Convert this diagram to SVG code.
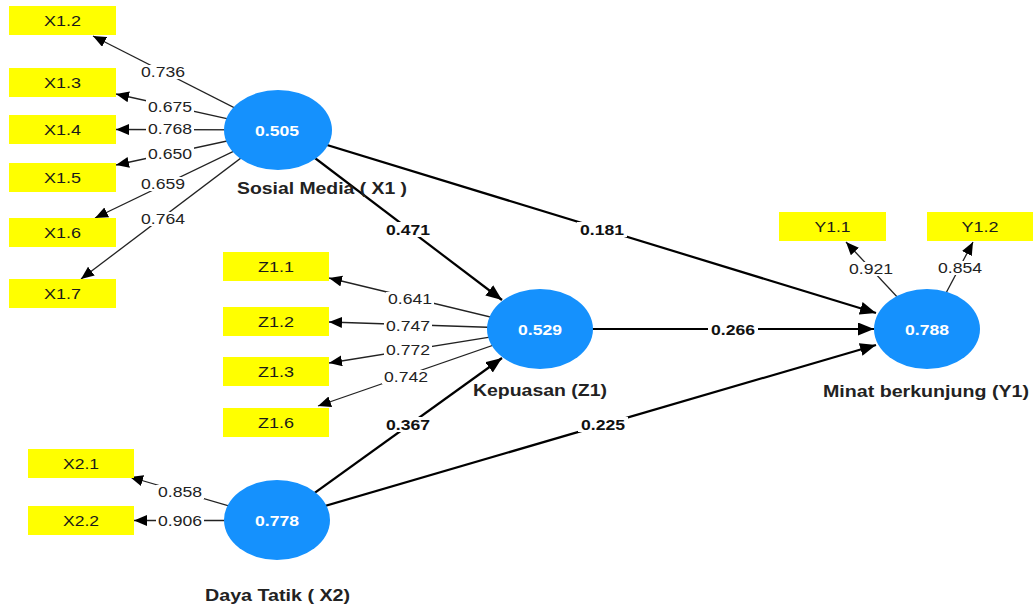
<svg xmlns="http://www.w3.org/2000/svg" width="1033" height="607" viewBox="0 0 1033 607">
<style>
.bg{fill:#ffffff}
.ind rect{fill:#ffff00}
.ind text{font-family:"Liberation Sans",Arial,sans-serif;font-size:15px;fill:#1a1a1a;text-anchor:middle}
.lv ellipse{fill:#1591fd}
.lv .val{font-family:"Liberation Sans",Arial,sans-serif;font-size:15px;font-weight:bold;fill:#ffffff;text-anchor:middle}
.lv .name{font-family:"Liberation Sans",Arial,sans-serif;font-size:16px;font-weight:bold;fill:#222222;text-anchor:middle}
.ld{stroke:#222222;stroke-width:1.3;fill:none;marker-end:url(#ah)}
.pth{stroke:#000000;stroke-width:2.2;fill:none;marker-end:url(#ahb)}
.lb{fill:#ffffff}
.lt{font-family:"Liberation Sans",Arial,sans-serif;font-size:15px;fill:#222222;text-anchor:middle}
.pt{font-family:"Liberation Sans",Arial,sans-serif;font-size:15px;font-weight:bold;fill:#111111;text-anchor:middle}
</style>
<defs>
<marker id="ah" markerUnits="userSpaceOnUse" markerWidth="14" markerHeight="12" refX="13" refY="5.5" orient="auto"><path d="M0,0 L13,5.5 L0,11 z" fill="#000"/></marker>
<marker id="ahb" markerUnits="userSpaceOnUse" markerWidth="17" markerHeight="14" refX="16" refY="6.5" orient="auto"><path d="M0,0 L16,6.5 L0,13 z" fill="#000"/></marker>
</defs>
<rect class="bg" x="0" y="0" width="1033" height="607"/>
<g id="connectors">
<line class="ld" x1="278" y1="130" x2="93" y2="36"/>
<line class="ld" x1="278" y1="130" x2="116" y2="94"/>
<line class="ld" x1="278" y1="130" x2="116" y2="129.5"/>
<line class="ld" x1="278" y1="130" x2="116" y2="165"/>
<line class="ld" x1="278" y1="130" x2="95" y2="218"/>
<line class="ld" x1="278" y1="130" x2="81" y2="279"/>
<line class="ld" x1="540" y1="329" x2="329" y2="278"/>
<line class="ld" x1="540" y1="329" x2="329" y2="322"/>
<line class="ld" x1="540" y1="329" x2="329" y2="363"/>
<line class="ld" x1="540" y1="329" x2="318" y2="406"/>
<line class="ld" x1="277" y1="520" x2="130" y2="477"/>
<line class="ld" x1="277" y1="520.5" x2="134" y2="520.5"/>
<line class="ld" x1="927" y1="329" x2="846" y2="242"/>
<line class="ld" x1="927" y1="329" x2="973" y2="242"/>
<line class="pth" x1="278" y1="130" x2="502" y2="300"/>
<line class="pth" x1="278" y1="130" x2="876" y2="313"/>
<line class="pth" x1="540" y1="329" x2="874" y2="329"/>
<line class="pth" x1="277" y1="520" x2="502" y2="358"/>
<line class="pth" x1="277" y1="520" x2="876" y2="345"/>
<g id="edge-labels">
<rect class="lb" x="139" y="65" width="48" height="14"/><text class="lt" x="163" y="77" textLength="44" lengthAdjust="spacingAndGlyphs">0.736</text>
<rect class="lb" x="146" y="100" width="48" height="14"/><text class="lt" x="170" y="112" textLength="44" lengthAdjust="spacingAndGlyphs">0.675</text>
<rect class="lb" x="146" y="122" width="48" height="14"/><text class="lt" x="170" y="134" textLength="44" lengthAdjust="spacingAndGlyphs">0.768</text>
<rect class="lb" x="146" y="147" width="48" height="14"/><text class="lt" x="170" y="159" textLength="44" lengthAdjust="spacingAndGlyphs">0.650</text>
<rect class="lb" x="139" y="177" width="48" height="14"/><text class="lt" x="163" y="189" textLength="44" lengthAdjust="spacingAndGlyphs">0.659</text>
<rect class="lb" x="139" y="212" width="48" height="14"/><text class="lt" x="163" y="224" textLength="44" lengthAdjust="spacingAndGlyphs">0.764</text>
<rect class="lb" x="386" y="292" width="48" height="14"/><text class="lt" x="410" y="304" textLength="44" lengthAdjust="spacingAndGlyphs">0.641</text>
<rect class="lb" x="384" y="319" width="48" height="14"/><text class="lt" x="408" y="331" textLength="44" lengthAdjust="spacingAndGlyphs">0.747</text>
<rect class="lb" x="384" y="343" width="48" height="14"/><text class="lt" x="408" y="355" textLength="44" lengthAdjust="spacingAndGlyphs">0.772</text>
<rect class="lb" x="382" y="370" width="48" height="14"/><text class="lt" x="406" y="382" textLength="44" lengthAdjust="spacingAndGlyphs">0.742</text>
<rect class="lb" x="156" y="485" width="48" height="14"/><text class="lt" x="180" y="497" textLength="44" lengthAdjust="spacingAndGlyphs">0.858</text>
<rect class="lb" x="156" y="514" width="48" height="14"/><text class="lt" x="180" y="526" textLength="44" lengthAdjust="spacingAndGlyphs">0.906</text>
<rect class="lb" x="847" y="262" width="48" height="14"/><text class="lt" x="871" y="274" textLength="44" lengthAdjust="spacingAndGlyphs">0.921</text>
<rect class="lb" x="936" y="261" width="48" height="14"/><text class="lt" x="960" y="273" textLength="44" lengthAdjust="spacingAndGlyphs">0.854</text>
<rect class="lb" x="383" y="222" width="50" height="15"/><text class="pt" x="408" y="235" textLength="44" lengthAdjust="spacingAndGlyphs">0.471</text>
<rect class="lb" x="577" y="222" width="50" height="15"/><text class="pt" x="602" y="235" textLength="44" lengthAdjust="spacingAndGlyphs">0.181</text>
<rect class="lb" x="708" y="322" width="50" height="15"/><text class="pt" x="733" y="335" textLength="44" lengthAdjust="spacingAndGlyphs">0.266</text>
<rect class="lb" x="383" y="417" width="50" height="15"/><text class="pt" x="408" y="430" textLength="44" lengthAdjust="spacingAndGlyphs">0.367</text>
<rect class="lb" x="578" y="417" width="50" height="15"/><text class="pt" x="603" y="430" textLength="44" lengthAdjust="spacingAndGlyphs">0.225</text>
</g>
</g>
<g id="X1.2" class="ind"><rect x="9" y="6" width="107" height="29"/><text x="62.5" y="26" textLength="37" lengthAdjust="spacingAndGlyphs">X1.2</text></g>
<g id="X1.3" class="ind"><rect x="9" y="68" width="107" height="29"/><text x="62.5" y="88" textLength="37" lengthAdjust="spacingAndGlyphs">X1.3</text></g>
<g id="X1.4" class="ind"><rect x="9" y="115" width="107" height="29"/><text x="62.5" y="135" textLength="37" lengthAdjust="spacingAndGlyphs">X1.4</text></g>
<g id="X1.5" class="ind"><rect x="9" y="163" width="107" height="29"/><text x="62.5" y="183" textLength="37" lengthAdjust="spacingAndGlyphs">X1.5</text></g>
<g id="X1.6" class="ind"><rect x="9" y="218" width="107" height="29"/><text x="62.5" y="238" textLength="37" lengthAdjust="spacingAndGlyphs">X1.6</text></g>
<g id="X1.7" class="ind"><rect x="9" y="279" width="107" height="29"/><text x="62.5" y="299" textLength="37" lengthAdjust="spacingAndGlyphs">X1.7</text></g>
<g id="Z1.1" class="ind"><rect x="223" y="252" width="106" height="29"/><text x="276" y="272" textLength="36" lengthAdjust="spacingAndGlyphs">Z1.1</text></g>
<g id="Z1.2" class="ind"><rect x="223" y="307" width="106" height="29"/><text x="276" y="327" textLength="36" lengthAdjust="spacingAndGlyphs">Z1.2</text></g>
<g id="Z1.3" class="ind"><rect x="223" y="357" width="106" height="29"/><text x="276" y="377" textLength="36" lengthAdjust="spacingAndGlyphs">Z1.3</text></g>
<g id="Z1.6" class="ind"><rect x="223" y="408" width="106" height="29"/><text x="276" y="428" textLength="36" lengthAdjust="spacingAndGlyphs">Z1.6</text></g>
<g id="X2.1" class="ind"><rect x="28" y="449" width="106" height="29"/><text x="81" y="469" textLength="36" lengthAdjust="spacingAndGlyphs">X2.1</text></g>
<g id="X2.2" class="ind"><rect x="28" y="506" width="106" height="29"/><text x="81" y="526" textLength="36" lengthAdjust="spacingAndGlyphs">X2.2</text></g>
<g id="Y1.1" class="ind"><rect x="779" y="212" width="107" height="29"/><text x="832.5" y="232" textLength="36" lengthAdjust="spacingAndGlyphs">Y1.1</text></g>
<g id="Y1.2" class="ind"><rect x="927" y="212" width="106" height="29"/><text x="980" y="232" textLength="37" lengthAdjust="spacingAndGlyphs">Y1.2</text></g>
<g id="X1" class="lv"><ellipse cx="278" cy="130" rx="54" ry="40"/><text class="val" x="277" y="135.5" textLength="44" lengthAdjust="spacingAndGlyphs">0.505</text><text class="name" x="322" y="194" textLength="170" lengthAdjust="spacingAndGlyphs">Sosial Media ( X1 )</text></g>
<g id="Z1" class="lv"><ellipse cx="540" cy="329" rx="53" ry="40"/><text class="val" x="540" y="334.5" textLength="44" lengthAdjust="spacingAndGlyphs">0.529</text><text class="name" x="540" y="396" textLength="134" lengthAdjust="spacingAndGlyphs">Kepuasan (Z1)</text></g>
<g id="X2" class="lv"><ellipse cx="277" cy="520" rx="53" ry="40"/><text class="val" x="277" y="525.5" textLength="44" lengthAdjust="spacingAndGlyphs">0.778</text><text class="name" x="277.5" y="601" textLength="145" lengthAdjust="spacingAndGlyphs">Daya Tatik ( X2)</text></g>
<g id="Y1" class="lv"><ellipse cx="927" cy="329" rx="53" ry="40"/><text class="val" x="927" y="334.5" textLength="44" lengthAdjust="spacingAndGlyphs">0.788</text><text class="name" x="926" y="397" textLength="206" lengthAdjust="spacingAndGlyphs">Minat berkunjung (Y1)</text></g>
</svg>
